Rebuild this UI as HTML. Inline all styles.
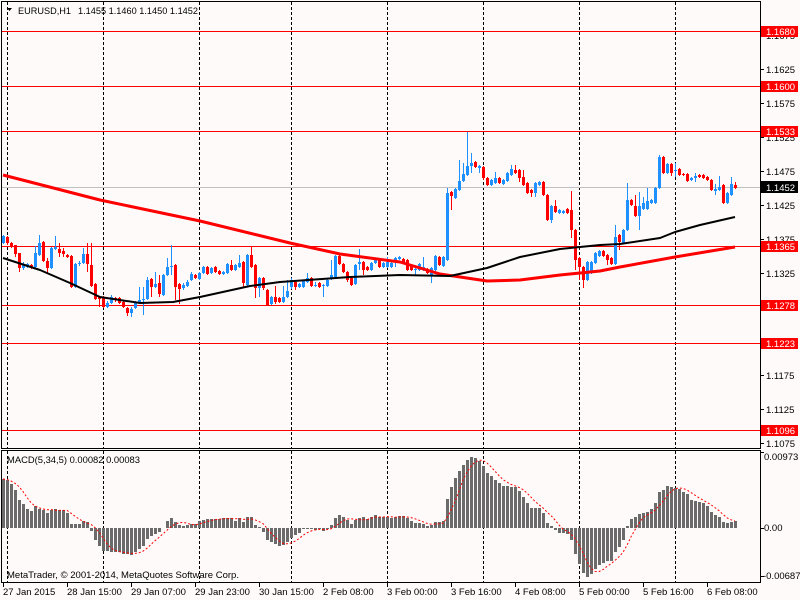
<!DOCTYPE html>
<html>
<head>
<meta charset="utf-8">
<style>
html,body{margin:0;padding:0;background:#fffafa;}
svg{display:block;}
text{font-family:"Liberation Sans",sans-serif;}
</style>
</head>
<body>
<svg id="chart" width="800" height="600" xmlns="http://www.w3.org/2000/svg">
<rect width="800" height="600" fill="#fffafa"/>

<!-- vertical dashed grid -->
<g stroke="#000" stroke-width="1" stroke-dasharray="3,2" shape-rendering="crispEdges">
<line x1="7.5" y1="2" x2="7.5" y2="448"/><line x1="7.5" y1="451" x2="7.5" y2="582"/>
<line x1="103.5" y1="2" x2="103.5" y2="448"/><line x1="103.5" y1="451" x2="103.5" y2="582"/>
<line x1="199.5" y1="2" x2="199.5" y2="448"/><line x1="199.5" y1="451" x2="199.5" y2="582"/>
<line x1="291.5" y1="2" x2="291.5" y2="448"/><line x1="291.5" y1="451" x2="291.5" y2="582"/>
<line x1="387.5" y1="2" x2="387.5" y2="448"/><line x1="387.5" y1="451" x2="387.5" y2="582"/>
<line x1="483.5" y1="2" x2="483.5" y2="448"/><line x1="483.5" y1="451" x2="483.5" y2="582"/>
<line x1="579.5" y1="2" x2="579.5" y2="448"/><line x1="579.5" y1="451" x2="579.5" y2="582"/>
<line x1="675.5" y1="2" x2="675.5" y2="448"/><line x1="675.5" y1="451" x2="675.5" y2="582"/>
</g>

<!-- bid line -->
<line x1="2" y1="187.5" x2="760" y2="187.5" stroke="#c0c0c0" stroke-width="1" shape-rendering="crispEdges"/>

<!-- horizontal level lines -->
<g stroke="#ff0000" stroke-width="1" shape-rendering="crispEdges">
<line x1="2" y1="31.5" x2="760" y2="31.5"/>
<line x1="2" y1="86.5" x2="760" y2="86.5"/>
<line x1="2" y1="131.5" x2="760" y2="131.5"/>
<line x1="2" y1="246.5" x2="760" y2="246.5"/>
<line x1="2" y1="305.5" x2="760" y2="305.5"/>
<line x1="2" y1="343.5" x2="760" y2="343.5"/>
<line x1="2" y1="430.5" x2="760" y2="430.5"/>
</g>

<g id="candles" shape-rendering="crispEdges"></g>

<!-- moving averages -->
<polyline fill="none" stroke="#ff0000" stroke-width="3" stroke-linejoin="round"
 points="3,175 100,200 200,221 290,243 340,254 400,262 440,274 487,281 520,280 560,275 600,271 620,267 675,257 735,247"/>
<polyline fill="none" stroke="#000" stroke-width="2" stroke-linejoin="round"
 points="3,258 40,270 70,283 100,297 140,303 173,302 200,297 250,286 280,282 350,277 400,275 450,276 487,268 520,257 560,249 600,245 620,244 660,238 675,232 700,225 735,217"/>

<!-- MACD -->
<g id="macd" shape-rendering="crispEdges"></g>
<polyline id="sig" fill="none" stroke="#ff0000" stroke-width="1" stroke-dasharray="2,2" points=""/>

<!-- frames -->
<g fill="none" stroke="#000" stroke-width="1" shape-rendering="crispEdges">
<rect x="1.5" y="1.5" width="759" height="447"/>
<rect x="1.5" y="450.5" width="759" height="132"/>
</g>

<!-- header -->
<polygon points="7,8 12,8 9.5,11" fill="#000"/>
<text x="18" y="14" font-size="9.5" fill="#000" textLength="53" lengthAdjust="spacingAndGlyphs">EURUSD,H1</text>
<text x="78" y="14" font-size="9.5" fill="#000" textLength="120" lengthAdjust="spacingAndGlyphs">1.1455 1.1460 1.1450 1.1452</text>

<!-- MACD texts -->
<text x="7" y="463" font-size="9.5" fill="#000" textLength="133" lengthAdjust="spacingAndGlyphs">MACD(5,34,5) 0.00082 0.00083</text>
<text x="7" y="578" font-size="9.5" fill="#000" textLength="232" lengthAdjust="spacingAndGlyphs">MetaTrader, © 2001-2014, MetaQuotes Software Corp.</text>

<!-- right axis ticks -->
<g stroke="#000" stroke-width="1" shape-rendering="crispEdges">
<line x1="760" y1="35.5" x2="764" y2="35.5"/>
<line x1="760" y1="69.5" x2="764" y2="69.5"/>
<line x1="760" y1="103.5" x2="764" y2="103.5"/>
<line x1="760" y1="137.5" x2="764" y2="137.5"/>
<line x1="760" y1="171.5" x2="764" y2="171.5"/>
<line x1="760" y1="205.5" x2="764" y2="205.5"/>
<line x1="760" y1="239.5" x2="764" y2="239.5"/>
<line x1="760" y1="273.5" x2="764" y2="273.5"/>
<line x1="760" y1="307.5" x2="764" y2="307.5"/>
<line x1="760" y1="341.5" x2="764" y2="341.5"/>
<line x1="760" y1="375.5" x2="764" y2="375.5"/>
<line x1="760" y1="409.5" x2="764" y2="409.5"/>
<line x1="760" y1="443.5" x2="764" y2="443.5"/>
<line x1="760" y1="452.5" x2="764" y2="452.5"/>
<line x1="760" y1="528.5" x2="764" y2="528.5"/>
<line x1="760" y1="576.5" x2="764" y2="576.5"/>
</g>

<!-- right axis labels -->
<g font-size="9.5" fill="#000">
<text x="766" y="39">1.1675</text>
<text x="766" y="73">1.1625</text>
<text x="766" y="107">1.1575</text>
<text x="766" y="141">1.1525</text>
<text x="766" y="175">1.1475</text>
<text x="766" y="209">1.1425</text>
<text x="766" y="243">1.1375</text>
<text x="766" y="277">1.1325</text>
<text x="766" y="311">1.1275</text>
<text x="766" y="345">1.1225</text>
<text x="766" y="379">1.1175</text>
<text x="766" y="413">1.1125</text>
<text x="766" y="447">1.1075</text>
<text x="764" y="460">0.00973</text>
<text x="764" y="531">0.00</text>
<text x="763" y="579">-0.00687</text>
</g>

<!-- level label boxes -->
<g shape-rendering="crispEdges">
<rect x="761" y="26" width="37" height="11" fill="#ff0000"/>
<rect x="761" y="81" width="37" height="11" fill="#ff0000"/>
<rect x="761" y="126" width="37" height="11" fill="#ff0000"/>
<rect x="761" y="181" width="37" height="12" fill="#000"/>
<rect x="761" y="241" width="37" height="11" fill="#ff0000"/>
<rect x="761" y="300" width="37" height="11" fill="#ff0000"/>
<rect x="761" y="338" width="37" height="11" fill="#ff0000"/>
<rect x="761" y="425" width="37" height="11" fill="#ff0000"/>
</g>
<g font-size="9.5" fill="#fff">
<text x="766" y="35">1.1680</text>
<text x="766" y="90">1.1600</text>
<text x="766" y="135">1.1533</text>
<text x="766" y="191">1.1452</text>
<text x="766" y="250">1.1365</text>
<text x="766" y="309">1.1278</text>
<text x="766" y="347">1.1223</text>
<text x="766" y="434">1.1096</text>
</g>

<!-- bottom axis ticks -->
<g stroke="#000" stroke-width="1" shape-rendering="crispEdges">
<line x1="3.5" y1="582" x2="3.5" y2="587"/>
<line x1="67.5" y1="582" x2="67.5" y2="587"/>
<line x1="131.5" y1="582" x2="131.5" y2="587"/>
<line x1="195.5" y1="582" x2="195.5" y2="587"/>
<line x1="259.5" y1="582" x2="259.5" y2="587"/>
<line x1="323.5" y1="582" x2="323.5" y2="587"/>
<line x1="387.5" y1="582" x2="387.5" y2="587"/>
<line x1="451.5" y1="582" x2="451.5" y2="587"/>
<line x1="515.5" y1="582" x2="515.5" y2="587"/>
<line x1="579.5" y1="582" x2="579.5" y2="587"/>
<line x1="643.5" y1="582" x2="643.5" y2="587"/>
<line x1="707.5" y1="582" x2="707.5" y2="587"/>
</g>
<g font-size="9.5" fill="#000">
<text x="3" y="595">27 Jan 2015</text>
<text x="67" y="595">28 Jan 15:00</text>
<text x="131" y="595">29 Jan 07:00</text>
<text x="195" y="595">29 Jan 23:00</text>
<text x="259" y="595">30 Jan 15:00</text>
<text x="323" y="595">2 Feb 08:00</text>
<text x="387" y="595">3 Feb 00:00</text>
<text x="451" y="595">3 Feb 16:00</text>
<text x="515" y="595">4 Feb 08:00</text>
<text x="579" y="595">5 Feb 00:00</text>
<text x="643" y="595">5 Feb 16:00</text>
<text x="707" y="595">6 Feb 08:00</text>
</g>
</svg>

<script>
(function(){
var D="b236,243,235,244 r237,243,236,245 r243,246,242,248 r245,254,245,257 r253,268,253,272 b264,268,262,270 b264,267,263,268 r265,267,264,269 b253,267,246,268 b243,255,235,256 "+
"r242,261,241,262 r261,268,258,273 b248,268,247,269 b247,249,236,250 r249,253,243,257 r251,254,248,257 r255,257,254,258 r256,287,255,288 b264,287,263,288 b263,264,261,266 "+
"b254,263,248,264 r254,264,243,272 r265,286,243,287 r284,299,283,300 r297,299,296,307 r297,307,296,308 b303,307,301,308 b297,303,295,304 r298,300,297,302 r298,303,297,304 "+
"r302,307,300,308 r308,313,307,316 b309,313,307,317 b303,308,301,309 b300,303,287,304 b299,300,287,315 b280,299,277,300 r279,287,278,297 b284,287,272,288 r283,294,275,297 "+
"b275,295,274,296 b267,275,258,276 b266,267,245,275 r265,287,264,300 r284,289,283,304 b285,288,283,290 b282,286,280,287 b274,280,272,281 r275,278,274,279 b273,279,272,280 "+
"b267,273,266,274 r267,274,266,275 b268,273,267,274 r267,272,266,273 r271,274,270,275 b272,274,271,275 b264,273,263,274 r265,270,260,271 b265,270,264,271 b263,267,255,268 "+
"r262,283,261,288 b255,285,254,286 r255,267,247,268 r265,288,264,298 b278,288,277,297 r278,288,277,290 r290,305,289,306 b297,304,296,305 r297,302,286,304 r298,302,297,303 "+
"b297,302,286,303 b291,297,280,298 b280,287,278,289 r282,287,281,290 b284,287,283,288 b281,287,280,288 b278,282,273,283 r278,286,277,287 b285,286,282,287 r283,287,282,288 "+
"b285,286,284,297 b280,286,279,287 b275,279,260,280 b256,277,255,278 r256,264,255,265 r264,272,263,273 r272,280,271,282 r278,285,277,286 b265,284,264,285 b262,264,249,270 "+
"r262,270,261,275 r267,270,266,271 b263,270,262,271 b259,263,258,264 r260,267,259,268 b263,267,262,268 b262,267,257,268 b263,267,262,268 b258,260,257,267 b257,259,256,260 "+
"r259,262,258,263 r260,270,259,271 r266,270,265,271 b269,270,268,276 b264,270,263,271 b267,270,257,271 r269,273,268,274 b268,275,267,283 b256,270,255,271 r257,265,256,266 "+
"b257,266,256,267 b193,260,188,261 r192,196,191,210 b189,198,188,199 b181,190,160,191 b174,181,163,182 b166,175,132,176 b163,166,153,173 r162,167,161,168 b166,168,165,173 "+
"r167,178,166,180 r178,185,177,186 b180,185,179,186 b178,183,172,184 r178,183,177,184 b180,184,179,185 b173,181,172,182 b169,175,165,176 r170,173,165,174 r170,178,169,182 "+
"r177,185,170,186 r183,193,182,194 r190,193,189,197 b183,193,182,197 b182,185,181,186 r182,195,181,196 r195,220,194,221 b206,220,205,223 r206,212,200,213 b210,213,209,214 "+
"b211,213,210,214 r209,213,208,214 r210,230,191,238 r230,260,229,270 r258,267,257,280 r267,280,266,288 b262,280,261,281 b262,273,261,274 b253,263,252,264 b251,256,250,257 "+
"r251,256,250,257 r255,260,254,265 r258,264,257,265 b237,264,225,265 r235,242,234,250 b230,243,229,244 b200,230,183,231 r200,205,199,206 r206,216,195,217 b206,216,192,230 "+
"b203,209,197,210 b201,209,188,210 b200,203,199,204 b188,203,187,204 b157,188,155,189 r157,173,156,174 b164,173,163,174 r164,173,163,176 b170,171,163,177 r169,175,168,176 "+
"r174,175,173,176 r174,181,173,182 b178,180,177,181 b176,178,173,182 r175,177,174,178 r175,178,174,179 r177,180,176,181 r180,190,179,191 b189,191,184,195 b187,190,176,191 "+
"r185,203,184,204 b193,203,192,204 b184,195,177,196 r185,188,182,189";
var NS="http://www.w3.org/2000/svg";
var g=document.getElementById("candles");
function rect(parent,x,y,w,h,fill){
  var r=document.createElementNS(NS,"rect");
  r.setAttribute("x",x);r.setAttribute("y",y);r.setAttribute("width",w);r.setAttribute("height",h);r.setAttribute("fill",fill);
  parent.appendChild(r);
}
D.trim().split(/\s+/).forEach(function(t,i){
  var c=t[0]=="b"?"#1e90ff":"#ff0000";
  var v=t.slice(1).split(",").map(Number);
  var top=v[0],bot=v[1],hi=Math.min(v[2],top),lo=Math.max(v[3],bot);
  var x=3+4*i;
  rect(g,x,hi,1,Math.max(1,lo-hi),c);
  rect(g,x-1,top,3,Math.max(1,bot-top),c);
});
var H=[49,48,44,38,28,24,19,17,22,19,18,15,18,19,18,18,15,4,4,4,7,6,-3,-12,-18,-23,-23,-24,-24,-24,-26,-26,-27,-24,-21,-18,-11,-8,-6,-4,0,7,10,6,3,2,3,4,4,7,8,9,9,9,9,10,10,10,7,10,
6,11,11,3,1,-4,-12,-14,-16,-18,-17,-14,-10,-7,-5,-1,-1,-1,-2,-1,-3,-1,3,10,13,11,8,4,8,10,11,9,11,13,11,11,11,10,11,12,12,10,7,5,5,4,2,3,6,6,7,29,41,50,57,63,68,71,70,67,62,55,52,48,45,42,42,41,41,37,31,25,20,20,20,15,5,2,-2,-5,-5,-6,-12,-26,-36,-45,-49,-46,-41,-37,-35,-33,-33,-24,-19,-12,2,9,11,14,15,16,19,25,36,38,42,41,40,39,36,34,28,27,26,25,22,16,13,11,6,5,6,7];
var m=document.getElementById("macd");
var Z=528;
H.forEach(function(v,i){
  var x=2+4*i;
  if(v>0) rect(m,x,Z-v,3,v,"#6b6b6b");
  else if(v<0) rect(m,x,Z,3,-v,"#6b6b6b");
});
var pts=[];
for(var i=0;i<H.length;i++){
  var s=0,n=0;
  for(var k=Math.max(0,i-4);k<=i;k++){s+=H[k];n++;}
  pts.push((3+4*i)+","+(Z-s/n).toFixed(1));
}
document.getElementById("sig").setAttribute("points",pts.join(" "));
})();
</script>
</body>
</html>
